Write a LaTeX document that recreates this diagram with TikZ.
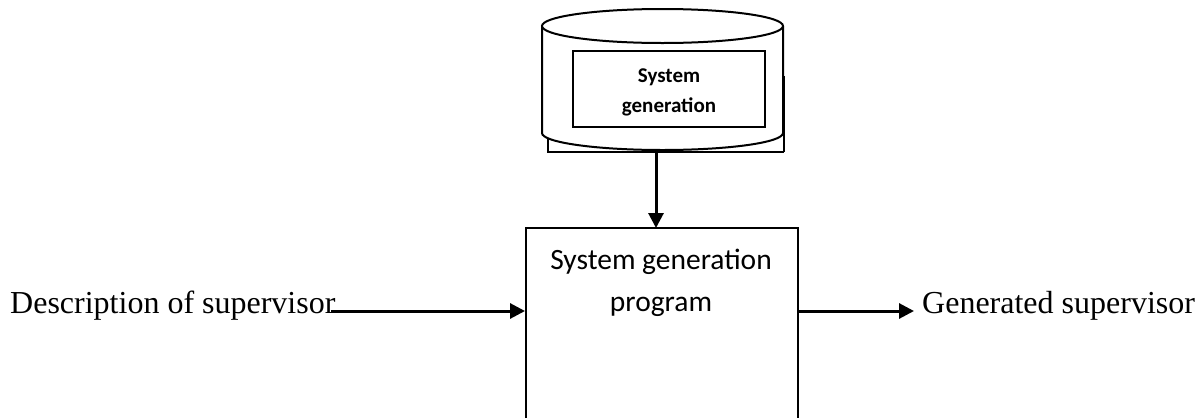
\documentclass[tikz,border=0pt]{standalone}
\usepackage{fontspec}
\setmainfont{Liberation Serif}
\newfontfamily\carl{Carlito}
\usetikzlibrary{arrows.meta}
\tikzset{
  px/.style={x=1pt,y=-1pt},
  outline/.style={draw=black,line width=2pt,fill=white},
  flow/.style={draw=black,line width=3pt,-{Triangle[length=15pt,width=15pt]}},
  serif/.style={inner sep=0pt,font=\fontsize{32}{36}\selectfont,anchor=base west},
  boxtext/.style={inner sep=0pt,align=center,font=\carl\fontsize{29.5}{41.5}\selectfont},
  dbtext/.style={inner sep=0pt,align=center,font=\carl\bfseries\fontsize{21}{30}\selectfont}
}
\begin{document}
\begin{tikzpicture}[px]
\useasboundingbox (0,0) rectangle (1196,418);
% frame behind the cylinder
\draw[line width=2pt] (548,135) -- (548,152) -- (784,152);
\draw[line width=2.6pt] (784,152) -- (784,76);
% cylinder
\path[outline] (542,26) -- (542,133) arc[start angle=180,end angle=0,x radius=120.5,y radius=17] -- (783,26);
\draw[outline] (662.5,26) ellipse[x radius=120.5,y radius=17];
\node[outline,minimum width=192pt,minimum height=76pt,inner sep=0pt] (db) at (669,89) {};
\node[dbtext] (dbt) at (669,92) {System\\generation};
% main box, running off the lower edge
\path[outline] (526,418) -- (526,228) -- (798,228) -- (798,418);
\coordinate (boxtop) at (656,228);
\coordinate (boxleft) at (525,311);
\coordinate (boxright) at (798,311);
\coordinate (cylbottom) at (656,150);
\node[boxtext,anchor=north] (prog) at (661,249) {System generation\\program};
\node[serif] (desc) at (10,313) {Description of supervisor};
\node[serif] (gen) at (922,313) {Generated supervisor};
\coordinate (descend) at (331,311);
\coordinate (gentip) at (914,311);
\draw[flow] (cylbottom) -- (boxtop);
\draw[flow] (descend) -- (boxleft);
\draw[flow] (boxright) -- (gentip);
\end{tikzpicture}
\end{document}
